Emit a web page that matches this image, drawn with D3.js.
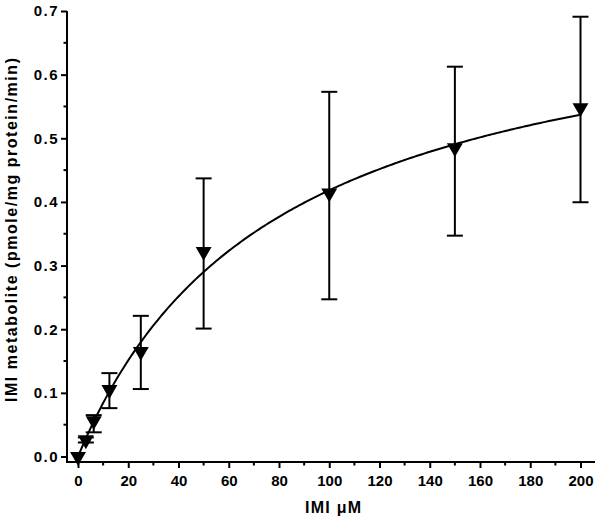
<!DOCTYPE html>
<html>
<head>
<meta charset="utf-8">
<script src="https://cdn.jsdelivr.net/npm/d3@7"></script>
<style>
  body { margin: 0; background: #fff; }
  svg { display: block; }
  .tick text { font-family: "Liberation Sans", Arial, sans-serif; font-weight: bold; font-size: 15px; fill: #000; }
  .y-axis .tick text { letter-spacing: 1.5px; }
  .title { font-family: "Liberation Sans", Arial, sans-serif; font-weight: bold; font-size: 16px; fill: #000; }
</style>
</head>
<body>
<div id="chart"></div>
<script>
// IMI concentration (uM) and metabolite formation rate (pmole/mg protein/min)
const conc = [0, 3.125, 6.25, 12.5, 25, 50, 100, 150, 200];
const rate = [0.0, 0.026, 0.056, 0.105, 0.165, 0.322, 0.414, 0.485, 0.548];
const errLow = [0.0, 0.022, 0.038, 0.076, 0.106, 0.201, 0.247, 0.347, 0.3995];
const errHigh = [0.0, 0.03, 0.065, 0.131, 0.221, 0.437, 0.573, 0.6125, 0.691];

// Michaelis-Menten fit
const vmax = 0.75;
const km = 79.3;

const xTicks = [0, 20, 40, 60, 80, 100, 120, 140, 160, 180, 200];
const yTicks = [0, 0.1, 0.2, 0.3, 0.4, 0.5, 0.6, 0.7];

const width = 600;
const height = 521;

const axisX = 67;    // y axis line position
const axisY = 462;   // x axis line position

let svg = d3.select('#chart').append('svg')
  .attr('width', width)
  .attr('height', height);

let x = d3.scaleLinear().domain([0, 200]).range([78, 580.5]);
let y = d3.scaleLinear().domain([0, 0.7]).range([456.5, 11]);

// minor ticks
let xMinor = d3.range(10, 200, 20);
let yMinor = d3.range(0.05, 0.7, 0.1);

let xAxis = svg.append('g')
  .attr('transform', `translate(0, ${axisY})`)
  .call(d3.axisBottom(x).tickValues(xTicks).tickSize(6).tickSizeOuter(0).tickPadding(7))
xAxis.select('.domain').remove();
xAxis.selectAll('.tick line').attr('stroke-width', 2);

svg.append('g')
  .selectAll('line').data(xMinor).enter().append('line')
  .attr('x1', d => x(d)).attr('x2', d => x(d))
  .attr('y1', axisY).attr('y2', axisY + 3.5)
  .attr('stroke', '#000').attr('stroke-width', 2);

let yAxis = svg.append('g')
  .classed('y-axis', true)
  .attr('transform', `translate(${axisX}, 0)`)
  .call(d3.axisLeft(y).tickValues(yTicks).tickFormat(d3.format('.1f')).tickSize(6).tickSizeOuter(0).tickPadding(2))
yAxis.select('.domain').remove();
yAxis.selectAll('.tick line').attr('stroke-width', 2);

svg.append('g')
  .selectAll('line').data(yMinor).enter().append('line')
  .attr('x1', axisX - 3.5).attr('x2', axisX)
  .attr('y1', d => y(d)).attr('y2', d => y(d))
  .attr('stroke', '#000').attr('stroke-width', 2);

// axis lines
svg.append('line')
  .attr('x1', axisX).attr('x2', axisX)
  .attr('y1', y(0.7)).attr('y2', axisY + 1)
  .attr('stroke', '#000').attr('stroke-width', 2);
svg.append('line')
  .attr('x1', axisX - 1).attr('x2', 595)
  .attr('y1', axisY).attr('y2', axisY)
  .attr('stroke', '#000').attr('stroke-width', 2);

// titles
svg.append('text')
  .classed('title', true)
  .attr('x', 333)
  .attr('y', 513)
  .attr('text-anchor', 'middle')
  .attr('textLength', 56)
  .attr('lengthAdjust', 'spacing')
  .text('IMI \u03bcM');

svg.append('text')
  .classed('title', true)
  .attr('transform', `translate(17, 230) rotate(-90)`)
  .attr('text-anchor', 'middle')
  .attr('textLength', 344)
  .attr('lengthAdjust', 'spacing')
  .text('IMI metabolite (pmole/mg protein/min)');

// fitted curve
let curveX = d3.range(0, 200.5, 1);
let line = d3.line()
  .x(d => x(d))
  .y(d => y(vmax * d / (km + d)));

svg.append('path')
  .datum(curveX)
  .attr('d', line)
  .attr('fill', 'none')
  .attr('stroke', '#000')
  .attr('stroke-width', 2);

// error bars
let points = conc.map((c, i) => ({c: c, v: rate[i], lo: errLow[i], hi: errHigh[i]}));
const capHalf = 8;

let bars = svg.append('g')
  .selectAll('g.err').data(points.filter(d => d.hi > d.lo)).enter().append('g')
  .classed('err', true)
  .attr('stroke', '#000')
  .attr('stroke-width', 2);

bars.append('line')
  .attr('x1', d => x(d.c)).attr('x2', d => x(d.c))
  .attr('y1', d => y(d.lo)).attr('y2', d => y(d.hi));
bars.append('line')
  .attr('x1', d => x(d.c) - capHalf).attr('x2', d => x(d.c) + capHalf)
  .attr('y1', d => y(d.hi)).attr('y2', d => y(d.hi));
bars.append('line')
  .attr('x1', d => x(d.c) - capHalf).attr('x2', d => x(d.c) + capHalf)
  .attr('y1', d => y(d.lo)).attr('y2', d => y(d.lo));

// markers: downward triangles
let symbol = d3.symbol().type(d3.symbolTriangle).size(110);
svg.append('g')
  .selectAll('path.point').data(points).enter().append('path')
  .classed('point', true)
  .attr('d', symbol)
  .attr('transform', d => `translate(${x(d.c)}, ${y(d.v)}) rotate(180)`)
  .attr('fill', '#000');
</script>
</body>
</html>
